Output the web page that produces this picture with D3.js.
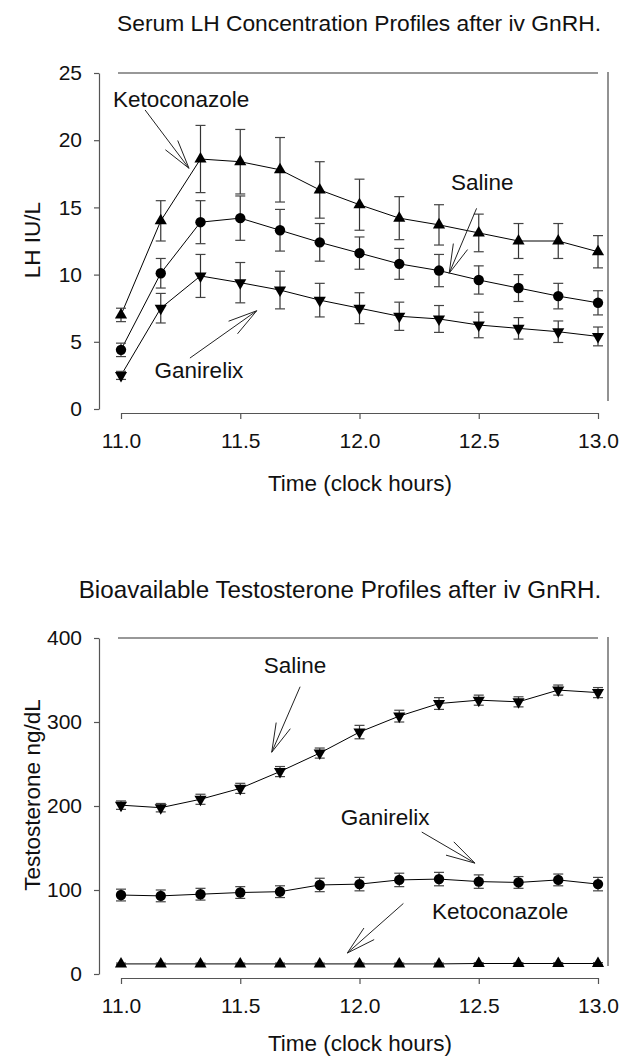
<!DOCTYPE html>
<html>
<head>
<meta charset="utf-8">
<script src="https://cdn.jsdelivr.net/npm/d3@7"></script>
<style>
  body { margin: 0; background: #fff; }
  svg text { font-family: "Liberation Sans", Arial, Helvetica, sans-serif; fill: #111; }
</style>
</head>
<body>
<svg id="chart" width="621" height="1058"></svg>
<script>
// sampling times (clock hours), every 10 minutes
var times = [11.0, 11.1667, 11.3333, 11.5, 11.6667, 11.8333, 12.0, 12.1667, 12.3333, 12.5, 12.6667, 12.8333, 13.0];
var xTicks = [11.0, 11.5, 12.0, 12.5, 13.0];

// serum LH (IU/L), mean and error
var lhKeto      = [7.0, 14.0, 18.6, 18.4, 17.8, 16.3, 15.2, 14.2, 13.7, 13.1, 12.5, 12.5, 11.7];
var lhKetoErr   = [0.5, 1.5, 2.5, 2.4, 2.4, 2.1, 1.9, 1.6, 1.5, 1.4, 1.3, 1.3, 1.2];
var lhSaline    = [4.4, 10.1, 13.9, 14.2, 13.3, 12.4, 11.6, 10.8, 10.3, 9.6, 9.0, 8.4, 7.9];
var lhSalineErr = [0.5, 1.1, 1.6, 1.65, 1.55, 1.4, 1.2, 1.15, 1.2, 1.05, 1.0, 0.95, 0.9];
var lhGani      = [2.5, 7.5, 9.9, 9.4, 8.85, 8.1, 7.5, 6.9, 6.7, 6.25, 6.0, 5.75, 5.4];
var lhGaniErr   = [0.3, 1.1, 1.6, 1.5, 1.4, 1.25, 1.15, 1.05, 1.0, 0.95, 0.8, 0.8, 0.7];
var lhTicks = [0, 5, 10, 15, 20, 25];

// bioavailable testosterone (ng/dL), mean and error
var tSaline    = [201, 198, 208, 221, 241, 263, 288, 307, 322, 326, 324, 338, 335];
var tSalineErr = [5, 5, 6, 6, 6, 6, 8, 7, 7, 6, 6, 6, 6];
var tGani      = [94, 93, 95, 97, 98, 106, 107, 112, 113, 110, 109, 112, 107];
var tGaniErr   = [7, 7, 7, 7, 7, 8, 8, 8, 8, 8, 7, 7, 8];
var tKeto      = [12, 12, 12, 12, 12, 12, 12, 12, 12, 12.5, 12.5, 12.5, 12.5];
var tKetoErr   = [1, 1, 1, 1, 1, 1, 1, 1, 1, 1, 1, 1, 1];
var tTicks = [0, 100, 200, 300, 400];

// annotation labels: text anchor point and arrow (from -> tip) in data units
var lhNotes = [
    { text: 'Ketoconazole', tx: 11.252, ty: 22.47, x1: 11.101, y1: 22.25, x2: 11.285, y2: 17.91 },
    { text: 'Saline',       tx: 12.515, ty: 16.29, x1: 12.491, y1: 14.93, x2: 12.376, y2: 10.10 },
    { text: 'Ganirelix',    tx: 11.327, ty: 2.31,  x1: 11.289, y1: 3.79,  x2: 11.569, y2: 7.31 }
];
var tNotes = [
    { text: 'Saline',       tx: 11.730, ty: 358, x1: 11.751, y1: 342, x2: 11.632, y2: 264 },
    { text: 'Ganirelix',    tx: 12.107, ty: 177, x1: 12.261, y1: 169, x2: 12.484, y2: 132 },
    { text: 'Ketoconazole', tx: 12.590, ty: 66,  x1: 12.184, y1: 84,  x2: 11.949, y2: 25 }
];

var svg = d3.select('#chart');
var left = 99, x0 = 121, x1 = 598, frameRight = 608;
var x = d3.scaleLinear().domain([11, 13]).range([x0, x1]);

var panels = [
    {
        title: 'Serum LH Concentration Profiles after iv GnRH.', titleX: 359, titleY: 31, titleSize: 22.8,
        top: 73, bottom: 409, max: 25, ticks: lhTicks, ylabel: 'LH IU/L', ylabelY: 240, xlabelY: 491,
        series: [
            { v: lhKeto, e: lhKetoErr, shape: 'up' },
            { v: lhSaline, e: lhSalineErr, shape: 'circle' },
            { v: lhGani, e: lhGaniErr, shape: 'down' }
        ],
        notes: lhNotes
    },
    {
        title: 'Bioavailable Testosterone Profiles after iv GnRH.', titleX: 340, titleY: 598, titleSize: 24.2,
        top: 638, bottom: 974, max: 400, ticks: tTicks, ylabel: 'Testosterone ng/dL', ylabelY: 795, xlabelY: 1051,
        series: [
            { v: tSaline, e: tSalineErr, shape: 'down' },
            { v: tGani, e: tGaniErr, shape: 'circle' },
            { v: tKeto, e: tKetoErr, shape: 'up' }
        ],
        notes: tNotes
    }
];

panels.forEach(drawPanel);

function drawPanel(p) {
    var y = d3.scaleLinear().domain([0, p.max]).range([p.bottom, p.top]);
    var g = svg.append('g');

    g.append('text')
        .attr('x', p.titleX).attr('y', p.titleY)
        .attr('text-anchor', 'middle')
        .style('font-size', p.titleSize + 'px')
        .text(p.title);

    // frame lines top and right
    g.append('line')
        .attr('x1', x0 - 3).attr('x2', x1).attr('y1', p.top).attr('y2', p.top)
        .attr('stroke', '#333').attr('stroke-width', 1.2);
    g.append('line')
        .attr('x1', frameRight).attr('x2', frameRight).attr('y1', p.top - 1).attr('y2', p.bottom - 8)
        .attr('stroke', '#777').attr('stroke-width', 1.6);

    // y axis
    var yAxis = g.append('g')
        .attr('transform', 'translate(' + left + ',0)')
        .call(d3.axisLeft(y).tickValues(p.ticks).tickSize(5).tickSizeOuter(0).tickPadding(12));
    // x axis
    var xAxis = g.append('g')
        .attr('transform', 'translate(0,' + (p.bottom + 4) + ')')
        .call(d3.axisBottom(x).tickValues(xTicks).tickFormat(d3.format('.1f')).tickSize(6).tickSizeOuter(0).tickPadding(14));

    [yAxis, xAxis].forEach(function (a) {
        a.select('.domain').attr('stroke', '#555').attr('stroke-width', 1.2);
        a.selectAll('.tick line').attr('stroke', '#555').attr('stroke-width', 1.2);
        a.selectAll('.tick text')
            .style('font-family', '"Liberation Sans", Arial, sans-serif')
            .style('font-size', '21px').attr('fill', '#111');
    });

    g.append('text')
        .attr('x', 360).attr('y', p.xlabelY)
        .attr('text-anchor', 'middle')
        .style('font-size', '22.5px')
        .text('Time (clock hours)');

    g.append('text')
        .attr('transform', 'translate(40,' + p.ylabelY + ') rotate(-90)')
        .attr('text-anchor', 'middle')
        .style('font-size', '22.5px')
        .text(p.ylabel);

    // series
    var line = d3.line().x(function (d, i) { return x(times[i]); }).y(function (d) { return y(d); });
    p.series.forEach(function (s) {
        g.append('path')
            .datum(s.v)
            .attr('d', line)
            .attr('fill', 'none')
            .attr('stroke', '#000')
            .attr('stroke-width', 1);

        var eb = g.append('g').selectAll('g').data(s.v).join('g');
        eb.append('line')
            .attr('x1', function (d, i) { return x(times[i]); })
            .attr('x2', function (d, i) { return x(times[i]); })
            .attr('y1', function (d, i) { return y(d - s.e[i]); })
            .attr('y2', function (d, i) { return y(d + s.e[i]); })
            .attr('stroke', '#333').attr('stroke-width', 1.2);
        [-1, 1].forEach(function (sign) {
            eb.append('line')
                .attr('x1', function (d, i) { return x(times[i]) - 5; })
                .attr('x2', function (d, i) { return x(times[i]) + 5; })
                .attr('y1', function (d, i) { return y(d + sign * s.e[i]); })
                .attr('y2', function (d, i) { return y(d + sign * s.e[i]); })
                .attr('stroke', '#444').attr('stroke-width', 1.2);
        });

        var sym = s.shape === 'circle' ? d3.symbol(d3.symbolCircle, 85) : d3.symbol(d3.symbolTriangle, 64);
        g.append('g').selectAll('path').data(s.v).join('path')
            .attr('d', sym)
            .attr('transform', function (d, i) {
                var t = 'translate(' + x(times[i]) + ',' + y(d) + ')';
                return s.shape === 'down' ? t + ' rotate(180)' : t;
            })
            .attr('fill', '#000');
    });

    // annotations with open arrow heads
    p.notes.forEach(function (n) {
        g.append('text')
            .attr('x', x(n.tx)).attr('y', y(n.ty))
            .attr('text-anchor', 'middle')
            .style('font-size', '22.5px')
            .text(n.text);
        var ax = x(n.x1), ay = y(n.y1), bx = x(n.x2), by = y(n.y2);
        g.append('line')
            .attr('x1', ax).attr('y1', ay).attr('x2', bx).attr('y2', by)
            .attr('stroke', '#222').attr('stroke-width', 1);
        var ang = Math.atan2(ay - by, ax - bx);
        [-0.26, 0.26].forEach(function (da) {
            g.append('line')
                .attr('x1', bx).attr('y1', by)
                .attr('x2', bx + 30 * Math.cos(ang + da))
                .attr('y2', by + 30 * Math.sin(ang + da))
                .attr('stroke', '#222').attr('stroke-width', 1);
        });
    });
}
</script>
</body>
</html>
